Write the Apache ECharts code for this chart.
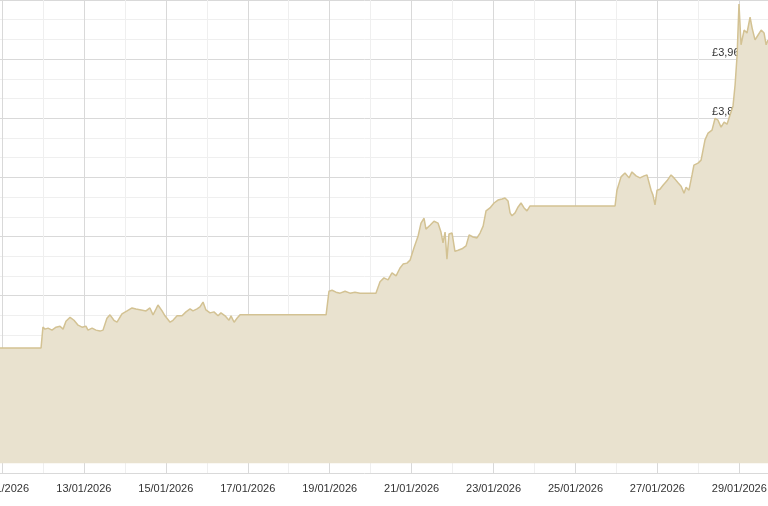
<!DOCTYPE html>
<html><head><meta charset="utf-8">
<script src="https://cdn.jsdelivr.net/npm/echarts@6/dist/echarts.min.js"></script>
<style>html,body{margin:0;padding:0;background:#fff;overflow:hidden;width:768px;height:506px}#w{position:relative;width:768px;height:506px;overflow:hidden}#c{position:absolute;left:-39px;top:0;width:807px;height:506px}</style>
</head><body><div id="w"><div id="c"></div></div>
<script>
// hours since 10/01/2026 00:00
const hours = [0,46.9,48.0,49.2,51.0,53.3,55.7,58.0,59.8,61.5,63.9,66.2,68.6,70.9,73.2,74.4,76.8,79.1,81.4,83.2,85.5,87.3,89.6,91.4,94.3,97.3,100.2,102.5,105.5,108.4,110.7,112.5,114.3,115.4,117.8,119.5,122.5,124.2,126.6,129.5,131.8,134.2,135.9,138.3,140.0,141.8,143.5,145.9,148.2,150.6,152.3,154.7,157.0,158.2,160.0,161.7,163.5,166.4,213.9,215.6,217.4,219.7,222.1,225.0,227.9,230.8,233.8,236.7,243.1,245.5,247.8,250.2,252.5,254.9,257.2,259.0,261.3,263.1,265.4,267.8,269.5,271.3,272.4,274.8,277.1,279.5,281.2,282.4,283.6,284.7,285.9,287.7,289.4,291.2,293.5,295.9,297.7,300.0,302.3,304.1,305.9,307.6,309.9,312.3,314.6,317.0,318.7,320.5,321.7,322.8,324.6,326.4,328.1,329.9,331.6,333.4,336.3,383.2,384.3,386.7,389.0,391.4,393.1,395.5,397.8,400.2,401.9,404.3,405.4,406.6,407.8,409.5,411.3,413.6,416.0,417.7,420.1,421.9,423.6,424.8,426.5,428.3,429.4,431.8,433.6,435.9,437.7,440.0,441.8,443.5,445.3,447.1,448.8,450.6,452.3,453.5,454.7,455.8,457.0,458.8,460.5,462.3,463.5,465.2,467.0,468.8,470.5,471.7,472.8];
const prices = [3373.6,3373.6,3416,3412,3414,3410,3416,3418,3412,3428,3436,3430,3420,3416,3418,3410,3414,3410,3408,3410,3434,3441,3430,3426,3443,3449,3455,3453,3451,3449,3455,3441,3453,3461,3449,3439,3426,3430,3439,3439,3447,3453,3449,3453,3457,3467,3451,3445,3447,3439,3445,3439,3430,3439,3426,3434,3441,3441,3441,3489,3491,3487,3485,3489,3485,3487,3485,3485,3485,3508,3516,3512,3526,3520,3536,3544,3546,3552,3577,3601,3627,3637,3615,3623,3631,3627,3609,3587,3609,3554,3605,3607,3570,3572,3575,3581,3603,3599,3597,3607,3621,3652,3658,3668,3674,3676,3678,3672,3648,3642,3648,3660,3668,3658,3652,3662,3662,3662,3694,3721,3729,3719,3731,3723,3719,3723,3725,3694,3684,3664,3694,3696,3704,3713,3725,3719,3709,3702,3688,3700,3694,3725,3745,3749,3755,3796,3810,3816,3840,3836,3822,3832,3828,3847,3865,3907,3968,4072,3989,4019,4013,4045,4023,3999,4009,4019,4013,3989,3999];

const chart = echarts.init(document.getElementById('c'));
chart.setOption({
  animation:false,
  grid:{left:0,right:0,top:0,bottom:33,containLabel:false,outerBoundsMode:'none'},
  xAxis:{type:'value',min:0,max:472.8,interval:24,
    axisLine:{show:false},axisTick:{show:false},
    splitLine:{show:true,lineStyle:{color:['#efefef','#d9d9d9'],width:1}},
    axisLabel:{margin:10,fontSize:11,color:'#333',fontFamily:'Liberation Sans, Arial, sans-serif',
      showMinLabel:true,showMaxLabel:false,hideOverlap:false,
      formatter:function(v){const d=Math.round(10+v/24); if(d%2===0) return ''; return (d<10?'0':'')+d+'/01/2026';}}},
  yAxis:{type:'value',position:'right',min:3120,max:4080,interval:40,
    axisLine:{show:false},axisTick:{show:false},
    splitLine:{show:true,lineStyle:{color:['#d9d9d9','#efefef','#efefef'],width:1}},
    axisLabel:{inside:true,margin:7,verticalAlign:'bottom',padding:[0,0,1,0],fontSize:11,color:'#333',
      fontFamily:'Liberation Sans, Arial, sans-serif',showMaxLabel:false,overflow:'none',width:200,hideOverlap:false,
      formatter:function(v){ if(v<3240||v>=4080||(v-3240)%120!==0) return ''; return '£'+v.toLocaleString('en-GB',{minimumFractionDigits:2,maximumFractionDigits:2});}}},
  series:[{type:'line',data:hours.map((h,i)=>[h,prices[i]]),showSymbol:false,
    lineStyle:{color:'#d3c293',width:1.5},
    areaStyle:{color:'#e9e2cf',opacity:1,origin:3140}}]
});
</script></body></html>
